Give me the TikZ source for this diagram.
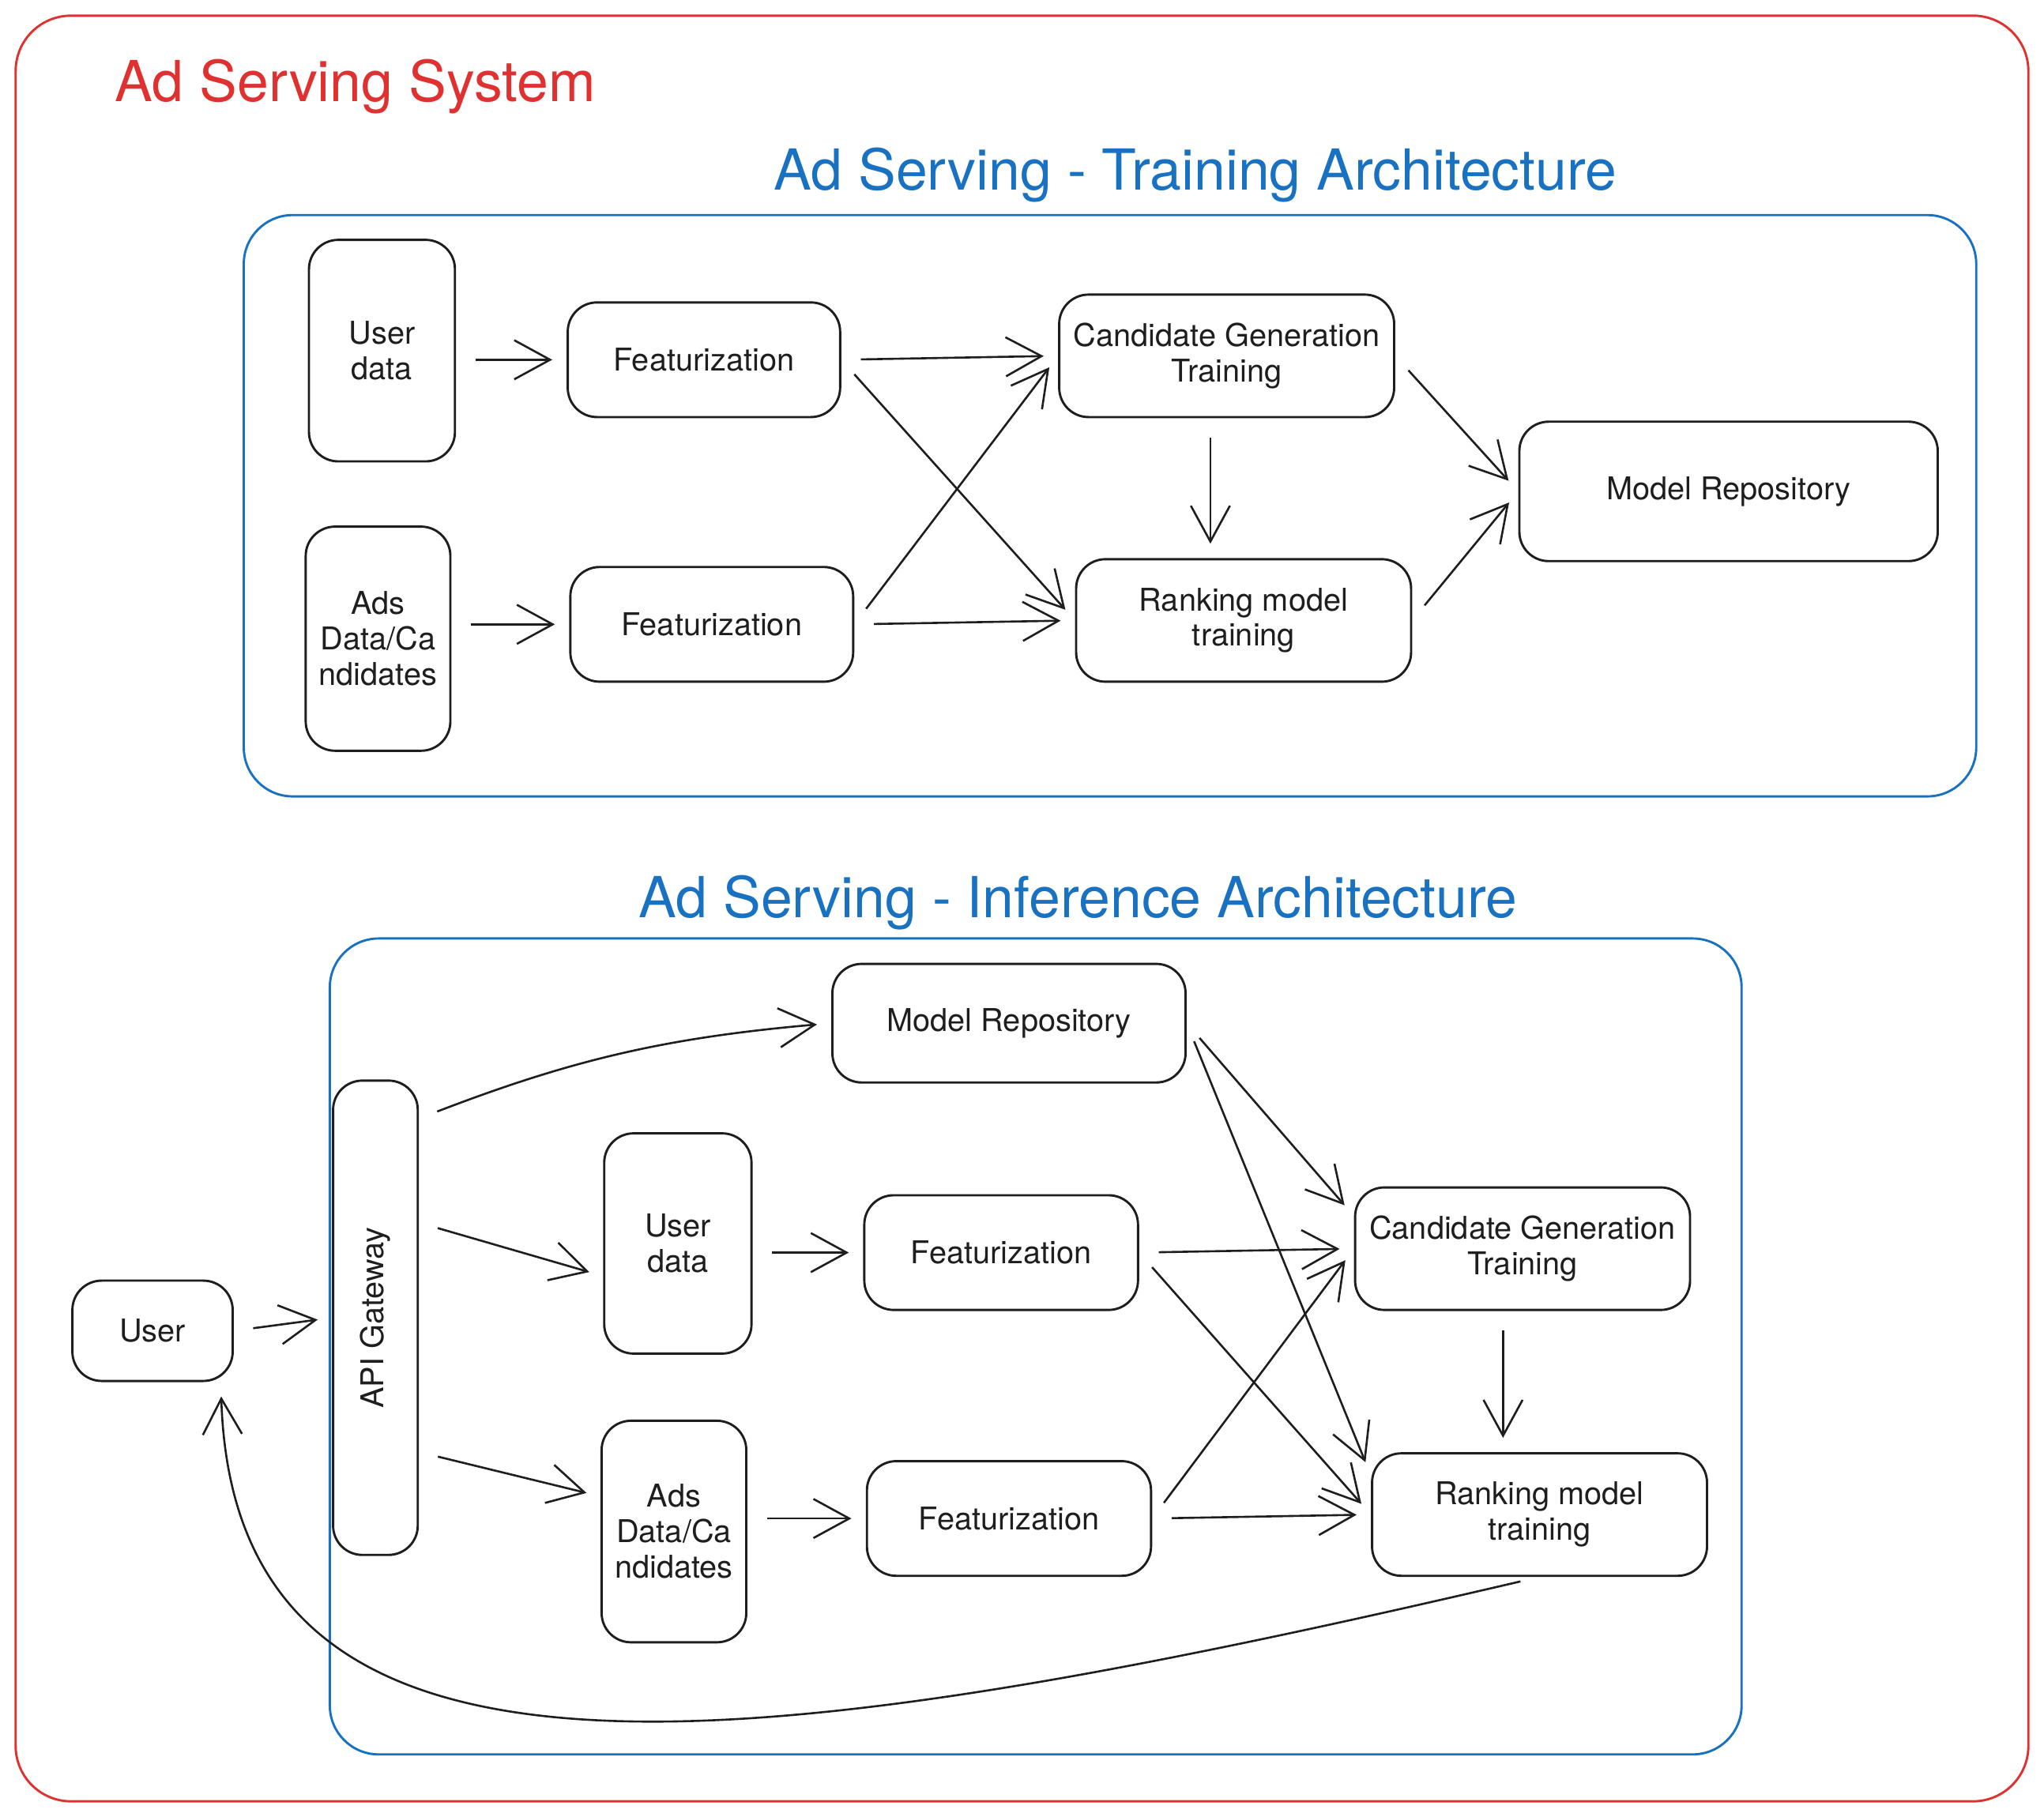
\documentclass[tikz,border=0pt]{standalone}
\usepackage{fontspec}
\setmainfont{TeX Gyre Heros}
\usepackage{xcolor}
\usepackage{tikz}
\usetikzlibrary{arrows.meta,calc,positioning}

\definecolor{ink}{HTML}{1E1E1E}
\definecolor{sysred}{HTML}{E03131}
\definecolor{archblue}{HTML}{1971C2}
\newcommand{\boxfont}{\fontsize{13.7}{15.5}\selectfont}
\newcommand{\titlefont}{\fontsize{24.7}{28}\selectfont}

\tikzset{
  box/.style={draw=ink, line width=1pt, rounded corners=0.45cm, align=center, font=\boxfont, text=ink, inner sep=2pt},
  arr/.style={draw=ink, line width=0.9pt, line join=round, -{Straight Barb[length=0.55cm,width=0.6cm]}, shorten <=0.3cm, shorten >=0.22cm},
  frame/.style={line width=1pt, rounded corners=0.75cm},
}

\begin{document}
\begin{tikzpicture}[x=0.02cm, y=-0.02cm]
    \useasboundingbox (0,0) rectangle (1568,1394);
    \draw[frame, sysred, rounded corners=0.85cm] (12,12) rectangle (1556,1382);
    \node[anchor=base west, inner sep=0, text=sysred, font=\titlefont] (systitle) at (88,78) {Ad Serving System};

    % training
    \node[anchor=base, inner sep=0, text=archblue, font=\titlefont] (traintitle) at (917,146) {Ad Serving - Training Architecture};
    \draw[frame, archblue] (187,165) rectangle (1516,611);
    \node[box, minimum width=2.24cm, minimum height=3.4cm] (tud) at (293,269) {User\\data};
    \node[box, minimum width=4.18cm, minimum height=1.76cm] (tf1) at (540,276) {Featurization};
    \node[box, minimum width=2.22cm, minimum height=3.44cm] (tads) at (290,490) {Ads\\Data/Ca\\ndidates};
    \node[box, minimum width=4.34cm, minimum height=1.76cm] (tf2) at (546,479) {Featurization};
    \node[box, minimum width=5.14cm, minimum height=1.88cm] (tcg) at (941,273) {Candidate Generation\\Training};
    \node[box, minimum width=5.14cm, minimum height=1.88cm] (trk) at (954,476) {Ranking model\\training};
    \node[box, minimum width=6.42cm, minimum height=2.14cm] (trepo) at (1326,377) {Model Repository};

    \draw[arr] (tud.east |- tf1.west) -- (tf1.west);
    \draw[arr] (tads.east |- tf2.west) -- (tf2.west);
    \draw[arr] (tf1.east) -- (tcg.west);
    \draw[arr] (tf1.east) -- (trk.west);
    \draw[arr] (tf2.east) -- (tcg.west);
    \draw[arr] (tf2.east) -- (trk.west);
    \draw[arr] ([xshift=-0.25cm]tcg.south) -- ([xshift=-0.25cm]tcg.south |- trk.north);
    \draw[arr] (tcg.east) -- (trepo.west);
    \draw[arr] (trk.east) -- (trepo.west);

    % inference
    \node[anchor=base, inner sep=0, text=archblue, font=\titlefont] (inftitle) at (827,704) {Ad Serving - Inference Architecture};
    \draw[frame, archblue] (253,720) rectangle (1336,1346);
    \node[box, minimum width=2.46cm, minimum height=1.54cm] (user) at (117,1021) {User};
    \node[box, minimum width=7.28cm, minimum height=1.3cm, rotate=90] (api) at (288,1011) {API Gateway};
    \node[box, minimum width=5.42cm, minimum height=1.82cm] (irepo) at (774,785) {Model Repository};
    \node[box, minimum width=2.26cm, minimum height=3.38cm] (iud) at (520,954) {User\\data};
    \node[box, minimum width=4.2cm, minimum height=1.76cm] (if1) at (768,961) {Featurization};
    \node[box, minimum width=2.22cm, minimum height=3.4cm] (iads) at (517,1175) {Ads\\Data/Ca\\ndidates};
    \node[box, minimum width=4.36cm, minimum height=1.76cm] (if2) at (774,1165) {Featurization};
    \node[box, minimum width=5.14cm, minimum height=1.88cm] (icg) at (1168,958) {Candidate Generation\\Training};
    \node[box, minimum width=5.14cm, minimum height=1.88cm] (irk) at (1181,1162) {Ranking model\\training};

    \draw[arr] (user.east) -- (api.north);
    \draw[arr] ([yshift=-0.6cm]api.south east) to[bend left=8] (irepo.west);
    \draw[arr] ([yshift=1.46cm]api.south) -- ([yshift=-0.5cm]iud.west);
    \draw[arr] ([yshift=-2.06cm]api.south) -- ([yshift=0.54cm]iads.west);
    \draw[arr] (iud.east |- if1.west) -- (if1.west);
    \draw[arr] (iads.east |- if2.west) -- (if2.west);
    \draw[arr] (irepo.east) -- ([yshift=0.5cm]icg.west);
    \draw[arr] (irepo.east) -- ([yshift=0.6cm]irk.west);
    \draw[arr] (if1.east) -- (icg.west);
    \draw[arr] (if1.east) -- (irk.west);
    \draw[arr] (if2.east) -- (icg.west);
    \draw[arr] (if2.east) -- (irk.west);
    \draw[arr] ([xshift=-0.3cm]icg.south) -- ([xshift=-0.3cm]icg.south |- irk.north);
    \draw[arr] (irk.south) .. controls (560,1355) and (180,1400) .. ([xshift=-0.2cm]user.south east);
\end{tikzpicture}
\end{document}
